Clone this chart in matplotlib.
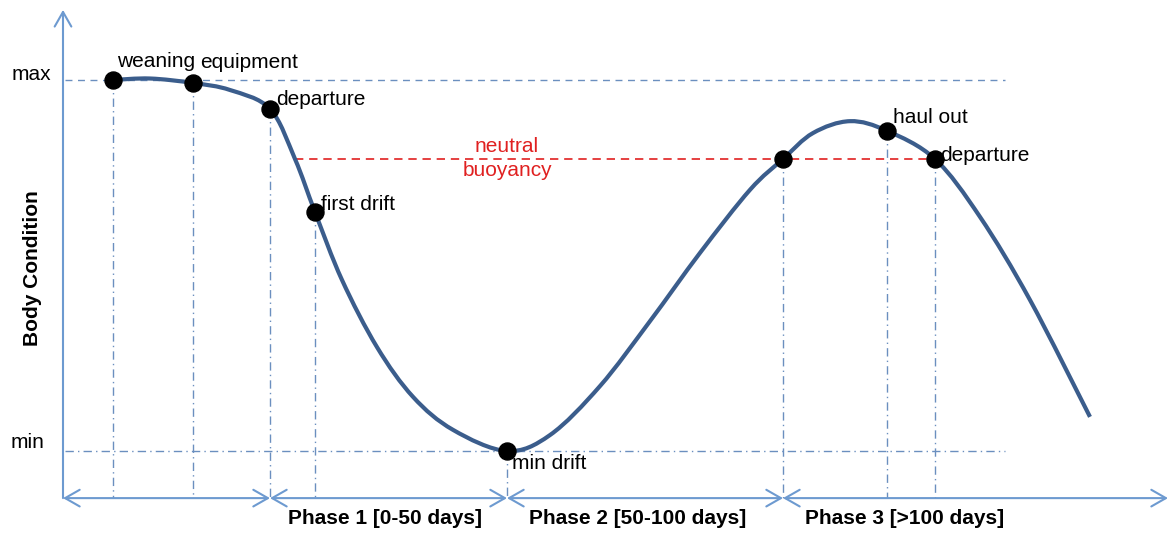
import matplotlib.pyplot as plt
from matplotlib.path import Path
from matplotlib.patches import PathPatch

plt.rcParams['font.family'] = ['Liberation Sans', 'DejaVu Sans']

# === Body condition trajectory (0 = min, 100 = max) ===
time_pts = [113, 150, 193, 230, 270, 295, 315, 342, 377, 413, 453, 507, 550, 600, 650,
            700, 750, 783, 813, 850, 887, 935, 980, 1030, 1090]
condition = [100.0, 100.4, 99.2, 97.3, 92.2, 78.7, 64.4, 46.1, 28.0, 14.6, 5.7, 0.0, 4.3,
             17.5, 35.0, 53.4, 70.4, 78.7, 85.7, 88.9, 86.3, 78.7, 63.1, 40.7, 9.2]

# === Life-history events ===
event_names = ['weaning', 'equipment', 'departure', 'first drift', 'min drift', '',
               'haul out', 'departure']
event_time = [113, 193, 270, 315, 507, 783, 887, 935]
event_cond = [100.0, 99.2, 92.2, 64.4, 0.0, 78.7, 86.3, 78.7]
label_offsets = [(4, 18), (7, 20), (6, 9), (6, 8), (5, -13), (0, 0), (6, 13), (5, 4)]

neutral_buoyancy = 78.7
neutral_span = [295, 935]

phase_bounds = [63, 270, 507, 783, 1168]
phase_labels = ['', 'Phase 1 [0-50 days]', 'Phase 2 [50-100 days]', 'Phase 3 [>100 days]']
phase_label_x = [0, 385, 638, 905]

# === Styling ===
axis_color = '#6d9ad0'
guide_color = '#6b8fbf'
curve_color = '#3b5d8c'
red = '#e02020'
axis_y = -12.7


def smooth_path(xs, ys):
    # Catmull-Rom knots turned into cubic bezier segments
    pts = list(zip(xs, ys))
    verts = [pts[0]]
    codes = [Path.MOVETO]
    n = len(pts)
    for i in range(n - 1):
        p0 = pts[max(i - 1, 0)]
        p1 = pts[i]
        p2 = pts[i + 1]
        p3 = pts[min(i + 2, n - 1)]
        c1 = (p1[0] + (p2[0] - p0[0]) / 6, p1[1] + (p2[1] - p0[1]) / 6)
        c2 = (p2[0] - (p3[0] - p1[0]) / 6, p2[1] - (p3[1] - p1[1]) / 6)
        verts += [c1, c2, p2]
        codes += [Path.CURVE4] * 3
    return Path(verts, codes)


fig = plt.figure(figsize=(11.71, 5.39), dpi=100)
ax = fig.add_axes([0, 0, 1, 1])
ax.set_xlim(0, 1171)
ax.set_ylim(-23.72, 121.56)
ax.axis('off')

# max / min reference lines
ax.plot([65, 1005], [100, 100], color=guide_color, lw=1.0, dashes=(5, 4))
ax.plot([65, 1005], [0, 0], color=guide_color, lw=1.0, dashes=(6, 3, 1, 3))

# vertical guides from each event down to the time axis
for t, c in zip(event_time, event_cond):
    ax.plot([t, t], [c, axis_y], color=guide_color, lw=1.0, dashes=(6, 3, 1, 3))

# neutral buoyancy
ax.plot(neutral_span, [neutral_buoyancy] * 2, color=red, lw=1.2, dashes=(5, 3.5))
ax.text(507, 82.2, 'neutral', color=red, fontsize=15, ha='center', va='center')
ax.text(507, 75.5, 'buoyancy', color=red, fontsize=15, ha='center', va='center')

# curve and events
ax.add_patch(PathPatch(smooth_path(time_pts, condition), facecolor='none',
                       edgecolor=curve_color, lw=3, capstyle='butt', zorder=3))
ax.scatter(event_time, event_cond, s=150, color='black', zorder=4)
for name, t, c, off in zip(event_names, event_time, event_cond, label_offsets):
    if name:
        ax.annotate(name, (t, c), xytext=off, textcoords='offset pixels',
                    fontsize=15, ha='left', va='center')

# y axis
ax.annotate('', xy=(63, 118.9), xytext=(63, axis_y),
            arrowprops=dict(arrowstyle='->,head_length=0.7,head_width=0.4',
                            color=axis_color, lw=1.5, mutation_scale=15,
                            shrinkA=0, shrinkB=0))
ax.text(31, 101.6, 'max', fontsize=15, ha='center', va='center')
ax.text(27, 2.2, 'min', fontsize=15, ha='center', va='center')
ax.text(33, 49.3, 'Body Condition', fontsize=15, fontweight='bold', rotation=90,
        ha='center', va='center')

# time axis split into phases
for i in range(len(phase_bounds) - 1):
    ax.annotate('', xy=(phase_bounds[i + 1], axis_y), xytext=(phase_bounds[i], axis_y),
                arrowprops=dict(arrowstyle='<->,head_length=0.7,head_width=0.4',
                                color=axis_color, lw=1.5, mutation_scale=15,
                                shrinkA=0, shrinkB=0))
    if phase_labels[i]:
        ax.text(phase_label_x[i], -18.1, phase_labels[i], fontsize=15,
                fontweight='bold', ha='center', va='center')

fig.savefig('out.png', dpi=100)
